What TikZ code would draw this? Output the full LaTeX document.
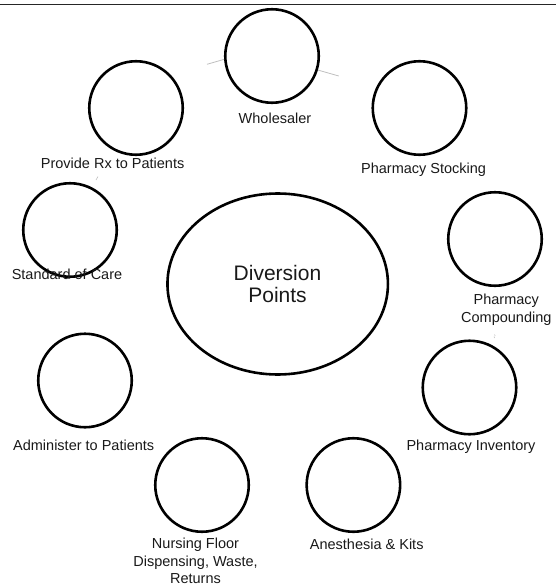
\documentclass[tikz,border=0pt]{standalone}
\usepackage{fontspec}
\setmainfont{Liberation Sans}
\usetikzlibrary{shapes.geometric}
\begin{document}
\begin{tikzpicture}[x=1pt,y=-1pt,
  pt/.style={circle,draw=black,line width=2.6pt,minimum size=93.5pt,inner sep=0pt},
  lbl/.style={anchor=base,align=center,inner sep=0pt,font=\fontsize{14.5}{17.4}\selectfont,text=black!90},
  conn/.style={draw=black!25,line width=0.8pt}]
\useasboundingbox (0,0) rectangle (556,586);
\draw[line width=1.3pt,black!85] (0,4.3) -- (556,4.3);
% central ellipse
\node[ellipse,draw=black,line width=2.6pt,minimum width=220.5pt,minimum height=181pt,inner sep=0pt] (dp) at (277.7,284) {};
\node[lbl,font=\fontsize{21}{22.3}\selectfont] (dpt) at (277.5,302.3) {Diversion\\Points};
% circles
\node[pt] (w)  at (272,56) {};
\node[pt] (rx) at (136,108) {};
\node[pt] (ps) at (419.5,108) {};
\node[pt] (sc) at (70,230) {};
\node[pt] (pc) at (495,239) {};
\node[pt] (ad) at (85,380.5) {};
\node[pt] (pi) at (469.5,387.5) {};
\node[pt] (nf) at (202,485) {};
\node[pt] (an) at (353.4,485) {};
% labels
\node[lbl] (wl)  at (275,123) {Wholesaler};
\node[lbl] (rxl) at (112.6,168.7) {Provide Rx to Patients};
\node[lbl] (psl) at (423.6,173.6) {Pharmacy Stocking};
\node[lbl] (scl) at (67,279) {Standard of Care};
\node[lbl] (pcl) at (506.3,322) {Pharmacy\\Compounding};
\node[lbl] (adl) at (83.7,450.8) {Administer to Patients};
\node[lbl] (pil) at (471,450.8) {Pharmacy Inventory};
\node[lbl] (nfl) at (195.5,583.5) {Nursing Floor\\Dispensing, Waste,\\Returns};
\node[lbl] (anl) at (366.7,549.5) {Anesthesia \& Kits};
% faint connector fragments
\coordinate (c1) at (207,64.3);
\coordinate (c2) at (338.7,76);
\coordinate (c3a) at (96,180); \coordinate (c3b) at (98,176.5);
\coordinate (c4a) at (494,336.5); \coordinate (c4b) at (494.6,338);
\coordinate (c5a) at (494.5,334.5); \coordinate (c5b) at (495.2,336);
\draw[conn] (c1) -- (w.184.7);
\draw[conn] (w.-17) -- (c2);
\draw[conn,line width=0.6pt] (c3a) -- (c3b);
\draw[conn,line width=0.6pt] (c4a) -- (c4b);
\draw[conn,line width=0.6pt] (c5a) -- (c5b);
\end{tikzpicture}
\end{document}
